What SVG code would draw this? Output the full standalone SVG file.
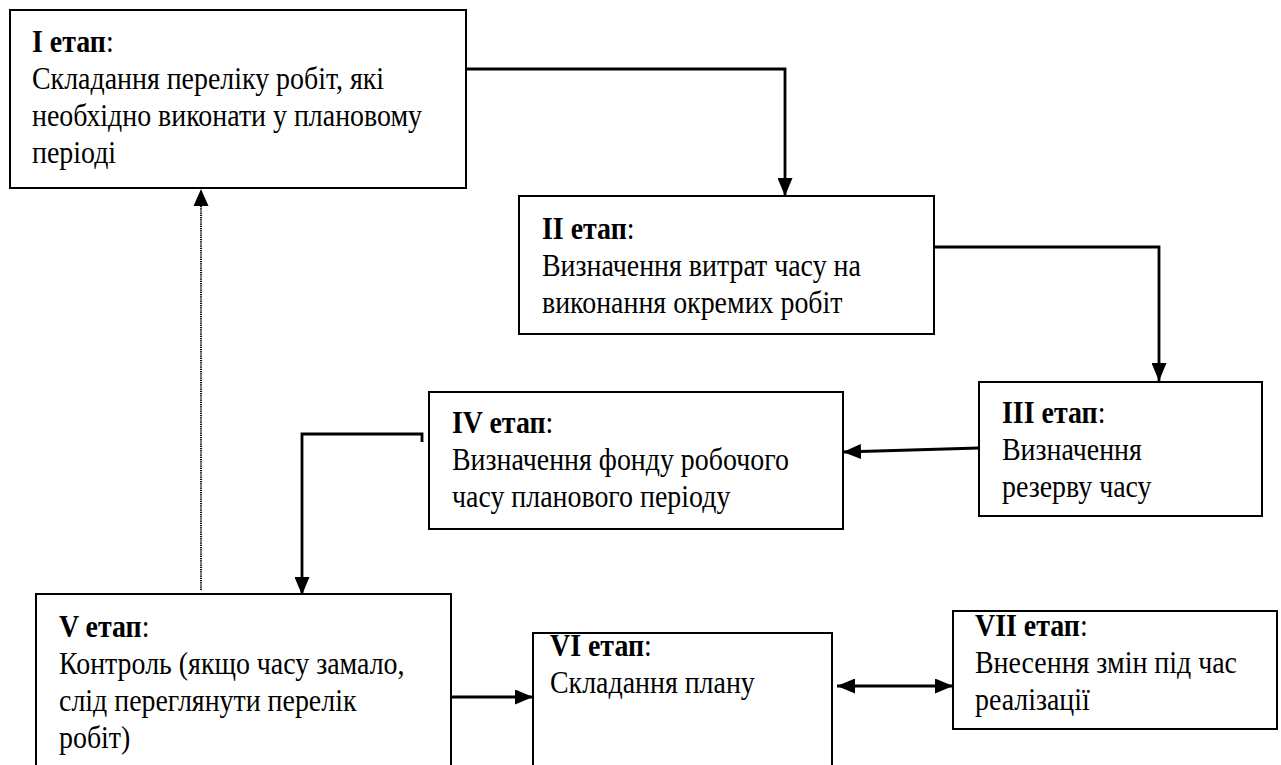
<svg xmlns="http://www.w3.org/2000/svg" width="1281" height="765" viewBox="0 0 1281 765">
<style>
.box{fill:#fff;stroke:#000;stroke-width:2}
.t{font-family:"Liberation Serif","Times New Roman",serif;font-size:31px;fill:#000}
.b{font-weight:bold}
.c{fill:none;stroke:#000;stroke-width:2.8}
.d{fill:none;stroke:#000;stroke-width:2;stroke-dasharray:1.2 1}
</style>
<defs>
<marker id="ah" viewBox="0 0 18 15" refX="18" refY="7.5" markerWidth="18" markerHeight="15" markerUnits="userSpaceOnUse" orient="auto-start-reverse">
<path d="M0,0 L18,7.5 L0,15 z" fill="#000"/>
</marker>
</defs>
<rect width="1281" height="765" fill="#fff"/>
<g id="connectors">
<path class="c" d="M463 69 H785 V196" marker-end="url(#ah)"/>
<path class="c" d="M934 247 H1159 V381" marker-end="url(#ah)"/>
<path class="c" d="M979 448 L843 452" marker-end="url(#ah)"/>
<path class="c" d="M422 442 V434 H302 V595" marker-end="url(#ah)"/>
<path class="d" d="M201 590 V204"/>
<path d="M193.5 206 L201 189 L208.5 206 z" fill="#000"/>
<path class="c" d="M451 697 H533" marker-end="url(#ah)"/>
<path class="c" d="M837 686 H953" marker-start="url(#ah)" marker-end="url(#ah)"/>
</g>
<g id="stage1">
<rect class="box" x="10" y="10" width="456" height="178"/>
<text class="t" transform="translate(32 52) scale(0.9 1)"><tspan class="b">І етап</tspan>:<tspan x="0" dy="37">Складання переліку робіт, які</tspan><tspan x="0" dy="37">необхідно виконати у плановому</tspan><tspan x="0" dy="37">періоді</tspan></text>
</g>
<g id="stage2">
<rect class="box" x="519" y="196" width="415" height="138"/>
<text class="t" transform="translate(542 239) scale(0.9 1)"><tspan class="b">ІІ етап</tspan>:<tspan x="0" dy="37">Визначення витрат часу на</tspan><tspan x="0" dy="37">виконання окремих робіт</tspan></text>
</g>
<g id="stage3">
<rect class="box" x="979" y="382" width="283" height="134"/>
<text class="t" transform="translate(1002 423) scale(0.9 1)"><tspan class="b">ІІІ етап</tspan>:<tspan x="0" dy="37">Визначення</tspan><tspan x="0" dy="37">резерву часу</tspan></text>
</g>
<g id="stage4">
<rect class="box" x="429" y="392" width="414" height="137"/>
<text class="t" transform="translate(452 433) scale(0.9 1)"><tspan class="b">IV етап</tspan>:<tspan x="0" dy="37">Визначення фонду робочого</tspan><tspan x="0" dy="37">часу планового періоду</tspan></text>
</g>
<g id="stage5">
<rect class="box" x="36" y="594" width="415" height="220"/>
<text class="t" transform="translate(59 637) scale(0.9 1)"><tspan class="b">V етап</tspan>:<tspan x="0" dy="37">Контроль (якщо часу замало,</tspan><tspan x="0" dy="37">слід переглянути перелік</tspan><tspan x="0" dy="37">робіт)</tspan></text>
</g>
<g id="stage6">
<rect class="box" x="533" y="633" width="299" height="200"/>
<text class="t" transform="translate(550 656) scale(0.9 1)"><tspan class="b">VI етап</tspan>:<tspan x="0" dy="37">Складання плану</tspan></text>
</g>
<g id="stage7">
<rect class="box" x="953" y="611" width="324" height="118"/>
<text class="t" transform="translate(975 636) scale(0.9 1)"><tspan class="b">VII етап</tspan>:<tspan x="0" dy="37">Внесення змін під час</tspan><tspan x="0" dy="37">реалізації</tspan></text>
</g>
</svg>
